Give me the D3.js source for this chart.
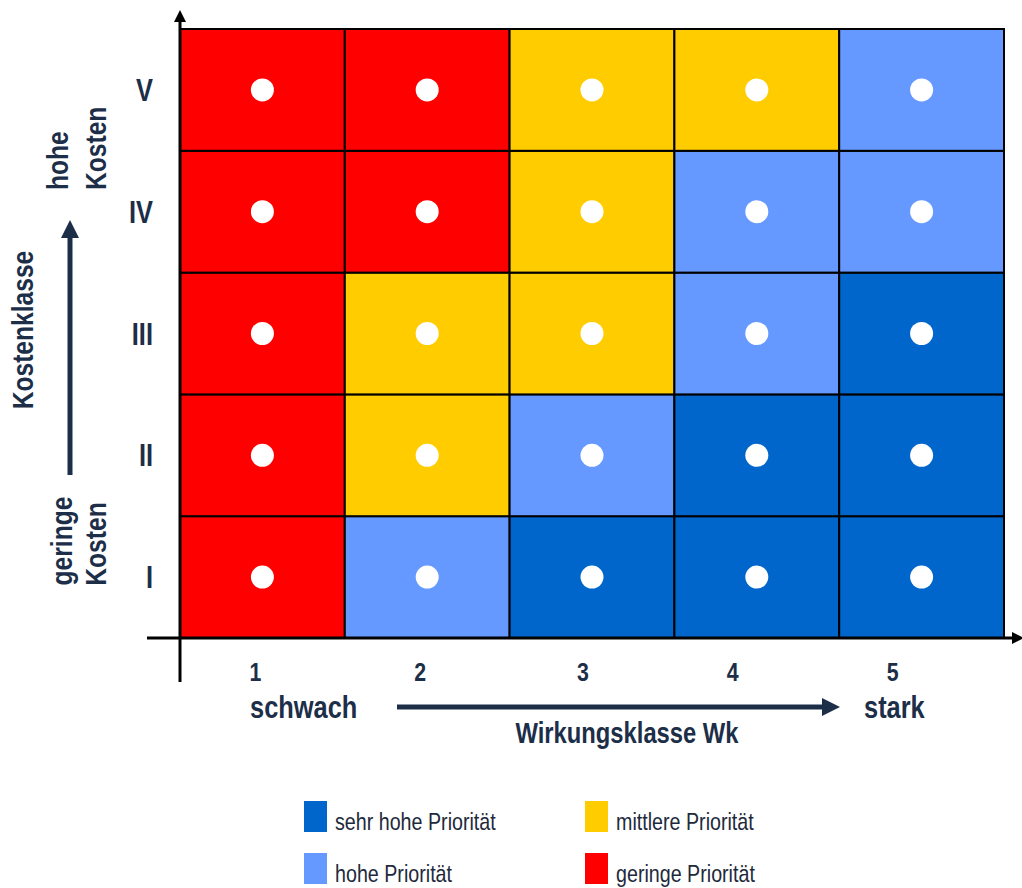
<!DOCTYPE html>
<html><head><meta charset="utf-8">
<script src="https://cdn.jsdelivr.net/npm/d3@7"></script>
<style>
html,body{margin:0;padding:0;background:#fff;}
svg{display:block;}
text{font-family:"Liberation Sans",Arial,sans-serif;}
</style></head>
<body>
<svg id="chart" width="1022" height="888"></svg>
<script>
// ---- data ----
const wirkungsklassen = ["1","2","3","4","5"];
const kostenklassen = ["I","II","III","IV","V"];
// priority level per cell: rows from I (bottom) to V (top), columns Wk 1..5
// 1 = geringe, 2 = mittlere, 3 = hohe, 4 = sehr hohe Priorität
const prioI   = [1,3,4,4,4];
const prioII  = [1,2,3,4,4];
const prioIII = [1,2,2,3,4];
const prioIV  = [1,1,2,3,3];
const prioV   = [1,1,2,2,3];
const priorityLevels = [4,2,3,1];
const priorityLabels = ["sehr hohe Priorität","mittlere Priorität","hohe Priorität","geringe Priorität"];

const prioRows = [prioI, prioII, prioIII, prioIV, prioV];
const cells = [];
kostenklassen.forEach((k,ri)=>wirkungsklassen.forEach((w,ci)=>cells.push({w,k,p:prioRows[ri][ci]})));

// ---- layout ----
const svg = d3.select("#chart");
const pL=180, pR=1004, pT=29, pB=638;
const navy="#1c2e48";
const SX=0.82; // narrow-font emulation
const x = d3.scaleBand().domain(wirkungsklassen).range([pL,pR]).padding(0);
const y = d3.scaleBand().domain(kostenklassen).range([pB,pT]).padding(0);
const color = d3.scaleOrdinal().domain([1,2,3,4]).range(["#ff0000","#ffcc00","#6699ff","#0066cc"]);

function label(sel, tx, ty, txt, o){
  o = o||{};
  const rot = o.rotate ? ` rotate(${o.rotate})` : "";
  return sel.append("text")
    .attr("transform",`translate(${tx},${ty})${rot} scale(${SX},1)`)
    .attr("text-anchor",o.anchor||"start")
    .attr("font-size",o.size||30)
    .attr("font-weight",o.bold===false?"normal":"bold")
    .attr("fill",o.fill||navy)
    .text(txt);
}

const defs = svg.append("defs");
defs.append("marker").attr("id","ah").attr("viewBox","0 0 10 10")
  .attr("refX",0).attr("refY",5).attr("markerWidth",4).attr("markerHeight",4)
  .attr("markerUnits","strokeWidth").attr("orient","auto")
  .append("path").attr("d","M0,0L10,5L0,10Z").attr("fill","#000");
defs.append("marker").attr("id","ahn").attr("viewBox","0 0 10 10")
  .attr("refX",0).attr("refY",5).attr("markerWidth",3.6).attr("markerHeight",3.6)
  .attr("markerUnits","strokeWidth").attr("orient","auto")
  .append("path").attr("d","M0,0L10,5L0,10Z").attr("fill",navy);

// cells
svg.append("g").selectAll("rect").data(cells).join("rect")
  .attr("x",d=>x(d.w)).attr("y",d=>y(d.k))
  .attr("width",x.bandwidth()).attr("height",y.bandwidth())
  .attr("fill",d=>color(d.p)).attr("stroke","#000").attr("stroke-width",2);

// dots
svg.append("g").selectAll("circle").data(cells).join("circle")
  .attr("cx",d=>x(d.w)+x.bandwidth()/2).attr("cy",d=>y(d.k)+y.bandwidth()/2)
  .attr("r",11.5).attr("fill","#fff");

// axes
svg.append("line").attr("x1",pL).attr("x2",pL).attr("y1",682).attr("y2",22)
  .attr("stroke","#000").attr("stroke-width",3).attr("marker-end","url(#ah)");
svg.append("line").attr("x1",147).attr("x2",1012).attr("y1",pB).attr("y2",pB)
  .attr("stroke","#000").attr("stroke-width",3).attr("marker-end","url(#ah)");

// x tick labels
const xNudge = [-7,-7,-9,-24,-29];
const gx = svg.append("g");
wirkungsklassen.forEach((d,i)=>label(gx, x(d)+x.bandwidth()/2+xNudge[i], 681, d, {anchor:"middle", size:26}));

// y tick labels
const gy = svg.append("g");
kostenklassen.forEach(d=>label(gy, 153, y(d)+y.bandwidth()/2+11, d, {anchor:"end", size:31}));

// x axis annotation
label(svg, 250, 718, "schwach", {size:31});
label(svg, 864, 718, "stark", {size:31});
svg.append("line").attr("x1",397).attr("x2",822).attr("y1",707).attr("y2",707)
  .attr("stroke",navy).attr("stroke-width",5).attr("marker-end","url(#ahn)");
label(svg, 627, 743, "Wirkungsklasse Wk", {anchor:"middle", size:29});

// y axis annotation
label(svg, 33, 330, "Kostenklasse", {anchor:"middle", size:30, rotate:-90});
svg.append("line").attr("x1",70).attr("x2",70).attr("y1",475).attr("y2",238)
  .attr("stroke",navy).attr("stroke-width",5).attr("marker-end","url(#ahn)");
label(svg, 68, 190, "hohe", {size:30, rotate:-90});
label(svg, 106, 190, "Kosten", {size:30, rotate:-90});
label(svg, 72, 541, "geringe", {anchor:"middle", size:30, rotate:-90});
label(svg, 106, 544, "Kosten", {anchor:"middle", size:30, rotate:-90});

// legend
const lg = svg.append("g").selectAll("g").data(priorityLevels).join("g")
  .attr("transform",(d,i)=>`translate(${i%2===0?304:585},${i<2?801:853})`);
lg.append("rect").attr("width",23).attr("height",31).attr("fill",d=>color(d));
lg.each(function(d,i){ label(d3.select(this), 31, 29, priorityLabels[i], {size:24, bold:false, fill:"#1e2a3c"}); });
</script>
</body></html>
